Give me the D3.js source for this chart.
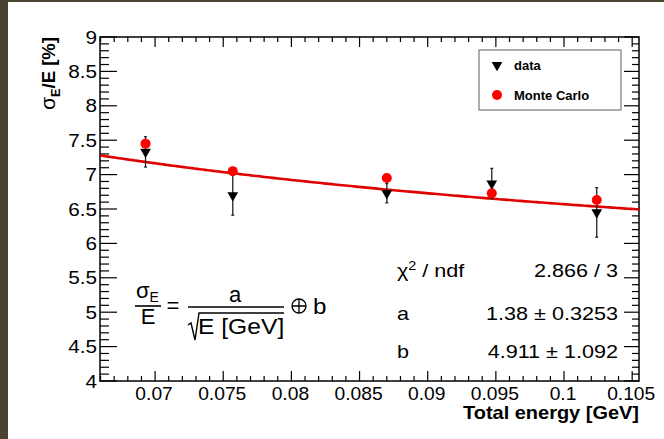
<!DOCTYPE html>
<html>
<head>
<meta charset="utf-8">
<script src="https://cdn.jsdelivr.net/npm/d3@7"></script>
<style>
  html, body { margin: 0; padding: 0; background: #fff; }
  svg { display: block; font-family: "Liberation Sans", Arial, Helvetica, sans-serif; }
</style>
</head>
<body>
<svg id="chart" width="664" height="439"></svg>
<script>
// Beam energy points [GeV]
const energy = [0.0693, 0.0757, 0.0870, 0.0947, 0.1024];
// Measured relative resolution sigma_E/E [%] and its uncertainty
const dataRes = [7.33, 6.70, 6.73, 6.87, 6.45];
const dataErr = [0.22, 0.29, 0.14, 0.22, 0.36];
// Simulated relative resolution [%]
const mcRes = [7.45, 7.05, 6.95, 6.73, 6.63];
// Fit parameters of sigma/E = a/sqrt(E) (+) b
const fitA = 1.38, fitAErr = 0.3253;
const fitB = 4.911, fitBErr = 1.092;
const chi2 = 2.866, ndf = 3;
// Axis ticks
const xTicks = [0.07, 0.075, 0.08, 0.085, 0.09, 0.095, 0.1, 0.105];
const xTickLabels = ["0.07", "0.075", "0.08", "0.085", "0.09", "0.095", "0.1", "0.105"];
const yTicks = [4, 4.5, 5, 5.5, 6, 6.5, 7, 7.5, 8, 8.5, 9];
const yTickLabels = ["4", "4.5", "5", "5.5", "6", "6.5", "7", "7.5", "8", "8.5", "9"];

const svg = d3.select("#chart");
const W = 664, H = 439;
const L = 100, R = 639, T = 37, B = 381;

svg.append("rect").attr("width", W).attr("height", H).attr("fill", "#fff");
// dark surround
svg.append("rect").attr("x", 0).attr("y", 0).attr("width", 8).attr("height", H).attr("fill", "#4a4331");
svg.append("rect").attr("x", 0).attr("y", 0).attr("width", W).attr("height", 2).attr("fill", "#4a4331");

const x = d3.scaleLinear().domain([0.06596, 0.1055]).range([L, R]);
const y = d3.scaleLinear().domain([4, 9]).range([B, T]);

// minor tick positions
const xMinor = d3.range(0, 40).map(i => 0.066 + i * 0.001).filter(v => v <= 0.1055 && !xTicks.some(t => Math.abs(t - v) < 1e-9));
const yMinor = d3.range(0, 51).map(i => 4 + i * 0.1).filter(v => !yTicks.some(t => Math.abs(t - v) < 1e-9));

const tickG = svg.append("g").attr("stroke", "#000").attr("stroke-width", 1.2);
function ticks(vals, scale, x1, x2, y1, y2, horiz) {
  tickG.selectAll(null).data(vals).enter().append("line")
    .attr("x1", d => horiz ? x1 : scale(d))
    .attr("x2", d => horiz ? x2 : scale(d))
    .attr("y1", d => horiz ? scale(d) : y1)
    .attr("y2", d => horiz ? scale(d) : y2);
}
// bottom / top
ticks(xTicks, x, 0, 0, B, B - 10, false);
ticks(xMinor, x, 0, 0, B, B - 5, false);
ticks(xTicks, x, 0, 0, T, T + 10, false);
ticks(xMinor, x, 0, 0, T, T + 5, false);
// left / right
ticks(yTicks, y, L, L + 17, 0, 0, true);
ticks(yMinor, y, L, L + 9, 0, 0, true);
ticks(yTicks, y, R, R - 15, 0, 0, true);
ticks(yMinor, y, R, R - 7, 0, 0, true);

// frame
svg.append("rect").attr("x", L).attr("y", T).attr("width", R - L).attr("height", B - T)
  .attr("fill", "none").attr("stroke", "#000").attr("stroke-width", 1.5);

// tick labels
svg.append("g").selectAll("text").data(xTicks).enter().append("text")
  .attr("transform", d => `translate(${x(d) - 1},400) scale(1.04,1)`).attr("text-anchor", "middle")
  .attr("font-size", 18.5).text((d, i) => xTickLabels[i]);
svg.append("g").selectAll("text").data(yTicks).enter().append("text")
  .attr("transform", d => `translate(97,${y(d) + 6.5}) scale(1.12,1)`).attr("text-anchor", "end")
  .attr("font-size", 18.5).text((d, i) => yTickLabels[i]);

// axis titles
svg.append("text").attr("transform", "translate(639,419) scale(1.11,1)").attr("text-anchor", "end")
  .attr("font-size", 18).attr("font-weight", "bold").text("Total energy [GeV]");
const yt = svg.append("text").attr("transform", "translate(55,37) rotate(-90) scale(1.06,1)")
  .attr("text-anchor", "end").attr("font-size", 17.5).attr("font-weight", "bold");
yt.append("tspan").attr("font-weight", "normal").attr("font-size", 20).text("σ");
yt.append("tspan").attr("font-size", 12).attr("dy", 5).text("E");
yt.append("tspan").attr("dy", -5).text("/E [%]");

// fit curve
const fitFn = e => Math.sqrt(fitA * fitA / e + fitB * fitB);
const fitX = d3.range(0, 201).map(i => x.domain()[0] + i * (x.domain()[1] - x.domain()[0]) / 200);
svg.append("path").datum(fitX)
  .attr("d", d3.line().x(d => x(d)).y(d => y(fitFn(d))))
  .attr("fill", "none").attr("stroke", "#e00000").attr("stroke-width", 2.6);

// data error bars
const eb = svg.append("g").attr("stroke", "#222").attr("stroke-width", 1.3);
energy.forEach((e, i) => {
  eb.append("line").attr("x1", x(e)).attr("x2", x(e))
    .attr("y1", y(dataRes[i] + dataErr[i])).attr("y2", y(dataRes[i] - dataErr[i]));
  [dataRes[i] + dataErr[i], dataRes[i] - dataErr[i]].forEach(v => {
    eb.append("line").attr("x1", x(e) - 1.5).attr("x2", x(e) + 1.5)
      .attr("y1", y(v)).attr("y2", y(v));
  });
});
// data markers (down triangles)
const tri = d3.symbol().type(d3.symbolTriangle).size(50);
svg.append("g").selectAll("path").data(energy).enter().append("path")
  .attr("d", tri).attr("fill", "#000")
  .attr("transform", (d, i) => `translate(${x(d)},${y(dataRes[i])}) rotate(180)`);
// Monte Carlo markers
svg.append("g").selectAll("circle").data(energy).enter().append("circle")
  .attr("cx", d => x(d)).attr("cy", (d, i) => y(mcRes[i])).attr("r", 5)
  .attr("fill", "#ff0000");

// legend
const lg = svg.append("g");
lg.append("rect").attr("x", 479).attr("y", 50).attr("width", 142).attr("height", 60)
  .attr("fill", "#fff").attr("stroke", "#777").attr("stroke-width", 1.2);
lg.append("path").attr("d", tri).attr("fill", "#000").attr("transform", "translate(497,65) rotate(180)");
lg.append("text").attr("x", 514).attr("y", 70).attr("font-size", 13).attr("font-weight", "bold").text("data");
lg.append("circle").attr("cx", 497).attr("cy", 95).attr("r", 5).attr("fill", "#ff0000");
lg.append("text").attr("x", 514).attr("y", 99.5).attr("font-size", 13).attr("font-weight", "bold").text("Monte Carlo");

// fit statistics (wide-set text)
const st = svg.append("g").attr("font-size", 18);
const put = (px, py, anchor) => st.append("text")
  .attr("transform", `translate(${px},${py}) scale(1.2,1)`).attr("text-anchor", anchor);
const chiLabel = put(397, 277, "start");
chiLabel.append("tspan").text("χ");
chiLabel.append("tspan").attr("font-size", 12).attr("dy", -7).text("2");
chiLabel.append("tspan").attr("dy", 7).text(" / ndf");
put(618, 277, "end").text(`${chi2} / ${ndf}`);
put(397, 320, "start").text("a");
put(618, 320, "end").text(`${fitA} ± ${fitAErr}`);
put(397, 358, "start").text("b");
put(618, 358, "end").text(`${fitB} ± ${fitBErr}`);

// resolution formula
const fm = svg.append("g").attr("font-size", 22);
const sig = fm.append("text").attr("x", 136).attr("y", 298);
sig.append("tspan").text("σ");
sig.append("tspan").attr("font-size", 14).attr("dy", 4).text("E");
fm.append("line").attr("x1", 135).attr("x2", 161).attr("y1", 306).attr("y2", 306).attr("stroke", "#000").attr("stroke-width", 1.6);
fm.append("text").attr("x", 148).attr("y", 324).attr("text-anchor", "middle").text("E");
fm.append("text").attr("x", 173).attr("y", 313).attr("text-anchor", "middle").text("=");
fm.append("text").attr("x", 235).attr("y", 302).attr("text-anchor", "middle").text("a");
fm.append("line").attr("x1", 188).attr("x2", 284).attr("y1", 307).attr("y2", 307).attr("stroke", "#000").attr("stroke-width", 1.6);
fm.append("path").attr("d", "M188,325 L191,323 L195,340 L199,313 L284,313")
  .attr("fill", "none").attr("stroke", "#000").attr("stroke-width", 1.4);
fm.append("text").attr("transform", "translate(198,334) scale(1.12,1)").text("E [GeV]");
fm.append("circle").attr("cx", 299).attr("cy", 306).attr("r", 7).attr("fill", "none").attr("stroke", "#000").attr("stroke-width", 1.3);
fm.append("path").attr("d", "M292,306 H306 M299,299 V313").attr("stroke", "#000").attr("stroke-width", 1.3);
fm.append("text").attr("transform", "translate(313,314) scale(1.1,1)").text("b");
</script>
</body>
</html>
